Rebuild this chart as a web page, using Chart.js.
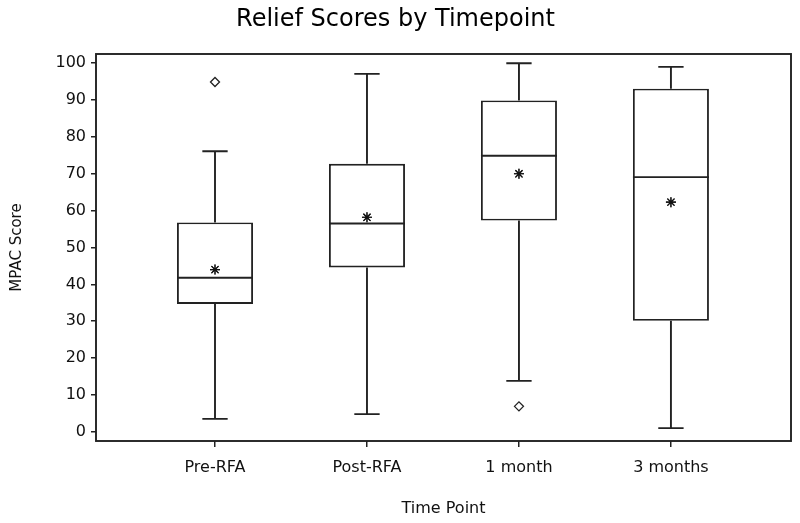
<!DOCTYPE html>
<html>
<head>
<meta charset="utf-8">
<title>Relief Scores by Timepoint</title>
<script src="https://cdn.jsdelivr.net/npm/chart.js@4.4.0/dist/chart.umd.min.js"></script>
<style>
  html, body { margin: 0; padding: 0; background: #ffffff; }
  #wrap { width: 800px; height: 523px; position: relative; }
</style>
</head>
<body>
<div id="wrap"><canvas id="chart"></canvas></div>
<script>
//Box plot values
const categories = ["Pre-RFA", "Post-RFA", "1 month", "3 months"];
const whiskerLow = [3.5, 4.8, 13.8, 1.0];
const q1 = [34.7, 44.6, 57.3, 30.1];
const medians = [41.8, 56.5, 74.9, 69.1];
const q3 = [56.8, 72.7, 89.9, 93.1];
const whiskerHigh = [76.1, 97.1, 100, 99.0];
const means = [44.0, 58.2, 70.0, 62.3];

//Outliers: which group (index into categories) and value
const outlierGroup = [0, 2];
const outlierValue = [94.9, 6.9];

//Axis ticks
const yTicks = [0, 10, 20, 30, 40, 50, 60, 70, 80, 90, 100];

const lineColor = "#222222";
const textColor = "#111111";

Chart.defaults.font.family = "'DejaVu Sans', 'Liberation Sans', sans-serif";
Chart.defaults.color = textColor;

//Whiskers, caps and median lines, plus the frame round the plot
const boxLines = {
  id: "boxLines",
  afterDatasetsDraw(chart) {
    const { ctx } = chart;
    const { x, y } = chart.scales;
    const bars = chart.getDatasetMeta(0).data;
    ctx.save();
    ctx.strokeStyle = lineColor;
    ctx.lineWidth = 1.9;
    bars.forEach((bar, i) => {
      const cx = x.getPixelForValue(i + 1);
      const half = bar.width / 2;
      const cap = bar.width / 6;
      const yMed = y.getPixelForValue(medians[i]);
      const yHigh = y.getPixelForValue(whiskerHigh[i]);
      const yLow = y.getPixelForValue(whiskerLow[i]);
      ctx.beginPath();
      //median
      ctx.moveTo(cx - half, yMed);
      ctx.lineTo(cx + half, yMed);
      //upper whisker
      ctx.moveTo(cx, y.getPixelForValue(q3[i]));
      ctx.lineTo(cx, yHigh);
      ctx.moveTo(cx - cap, yHigh);
      ctx.lineTo(cx + cap, yHigh);
      //lower whisker
      ctx.moveTo(cx, y.getPixelForValue(q1[i]));
      ctx.lineTo(cx, yLow);
      ctx.moveTo(cx - cap, yLow);
      ctx.lineTo(cx + cap, yLow);
      ctx.stroke();
    });
    ctx.restore();
  },
  afterDraw(chart) {
    const { ctx, chartArea } = chart;
    ctx.save();
    ctx.strokeStyle = lineColor;
    ctx.lineWidth = 1.9;
    ctx.strokeRect(
      chartArea.left,
      chartArea.top,
      chartArea.right - chartArea.left,
      chartArea.bottom - chartArea.top
    );
    ctx.restore();

    //means go on top of the median lines
    chart.getDatasetMeta(1).data.forEach(pt => pt.draw(ctx, chartArea));
  },
};

const boxData = categories.map((c, i) => ({ x: i + 1, y: [q1[i], q3[i]] }));
const meanData = means.map((m, i) => ({ x: i + 1, y: m }));
const outlierData = outlierGroup.map((g, i) => ({ x: g + 1, y: outlierValue[i] }));

new Chart(document.getElementById("chart"), {
  type: "bar",
  data: {
    datasets: [
      {
        label: "IQR",
        data: boxData,
        order: 3,
        backgroundColor: "#ffffff",
        borderColor: lineColor,
        borderWidth: 1.9,
        borderSkipped: false,
        categoryPercentage: 1,
        barPercentage: 0.5,
      },
      {
        type: "scatter",
        label: "Mean",
        data: meanData,
        order: 1,
        pointStyle: "star",
        radius: 5,
        borderColor: "#111111",
        borderWidth: 1.1,
        backgroundColor: "#111111",
      },
      {
        type: "scatter",
        label: "Outlier",
        data: outlierData,
        order: 1,
        pointStyle: "rectRot",
        radius: 4.5,
        borderColor: "#222222",
        borderWidth: 1.3,
        backgroundColor: "#ffffff",
      },
    ],
  },
  options: {
    responsive: true,
    maintainAspectRatio: false,
    animation: false,
    events: [],
    layout: { padding: { left: 0, right: 9, top: 0, bottom: 0 } },
    plugins: {
      legend: { display: false },
      tooltip: { enabled: false },
      title: {
        display: true,
        text: "Relief Scores by Timepoint",
        color: "#000000",
        font: { size: 24, weight: "normal", lineHeight: 1.2 },
        padding: { top: 5.6, bottom: 19.6 },
      },
    },
    scales: {
      x: {
        type: "linear",
        min: 0.217,
        max: 4.79,
        offset: false,
        border: { display: false },
        grid: {
          offset: false,
          drawOnChartArea: false,
          drawTicks: true,
          tickLength: 6,
          tickColor: lineColor,
          lineWidth: 1.5,
        },
        afterBuildTicks: scale => {
          scale.ticks = categories.map((c, i) => ({ value: i + 1 }));
        },
        ticks: {
          padding: 11,
          autoSkip: false,
          maxRotation: 0,
          font: { size: 16 },
          callback: value => categories[value - 1],
        },
        title: {
          display: true,
          text: "Time Point",
          font: { size: 16 },
          padding: { top: 0, bottom: 5 },
        },
        afterFit: scale => {
          scale.height = 82;
        },
      },
      y: {
        min: -2.5,
        max: 102.5,
        border: { display: false },
        grid: {
          drawOnChartArea: false,
          drawTicks: true,
          tickLength: 5,
          tickColor: lineColor,
          lineWidth: 1.5,
        },
        afterBuildTicks: scale => {
          scale.ticks = yTicks.map(v => ({ value: v }));
        },
        ticks: {
          padding: 5,
          font: { size: 16 },
        },
        title: {
          display: true,
          text: "MPAC Score",
          font: { size: 15 },
          padding: { top: 8, bottom: 0 },
        },
        afterFit: scale => {
          scale.width = 96;
        },
      },
    },
  },
  plugins: [boxLines],
});
</script>
</body>
</html>
